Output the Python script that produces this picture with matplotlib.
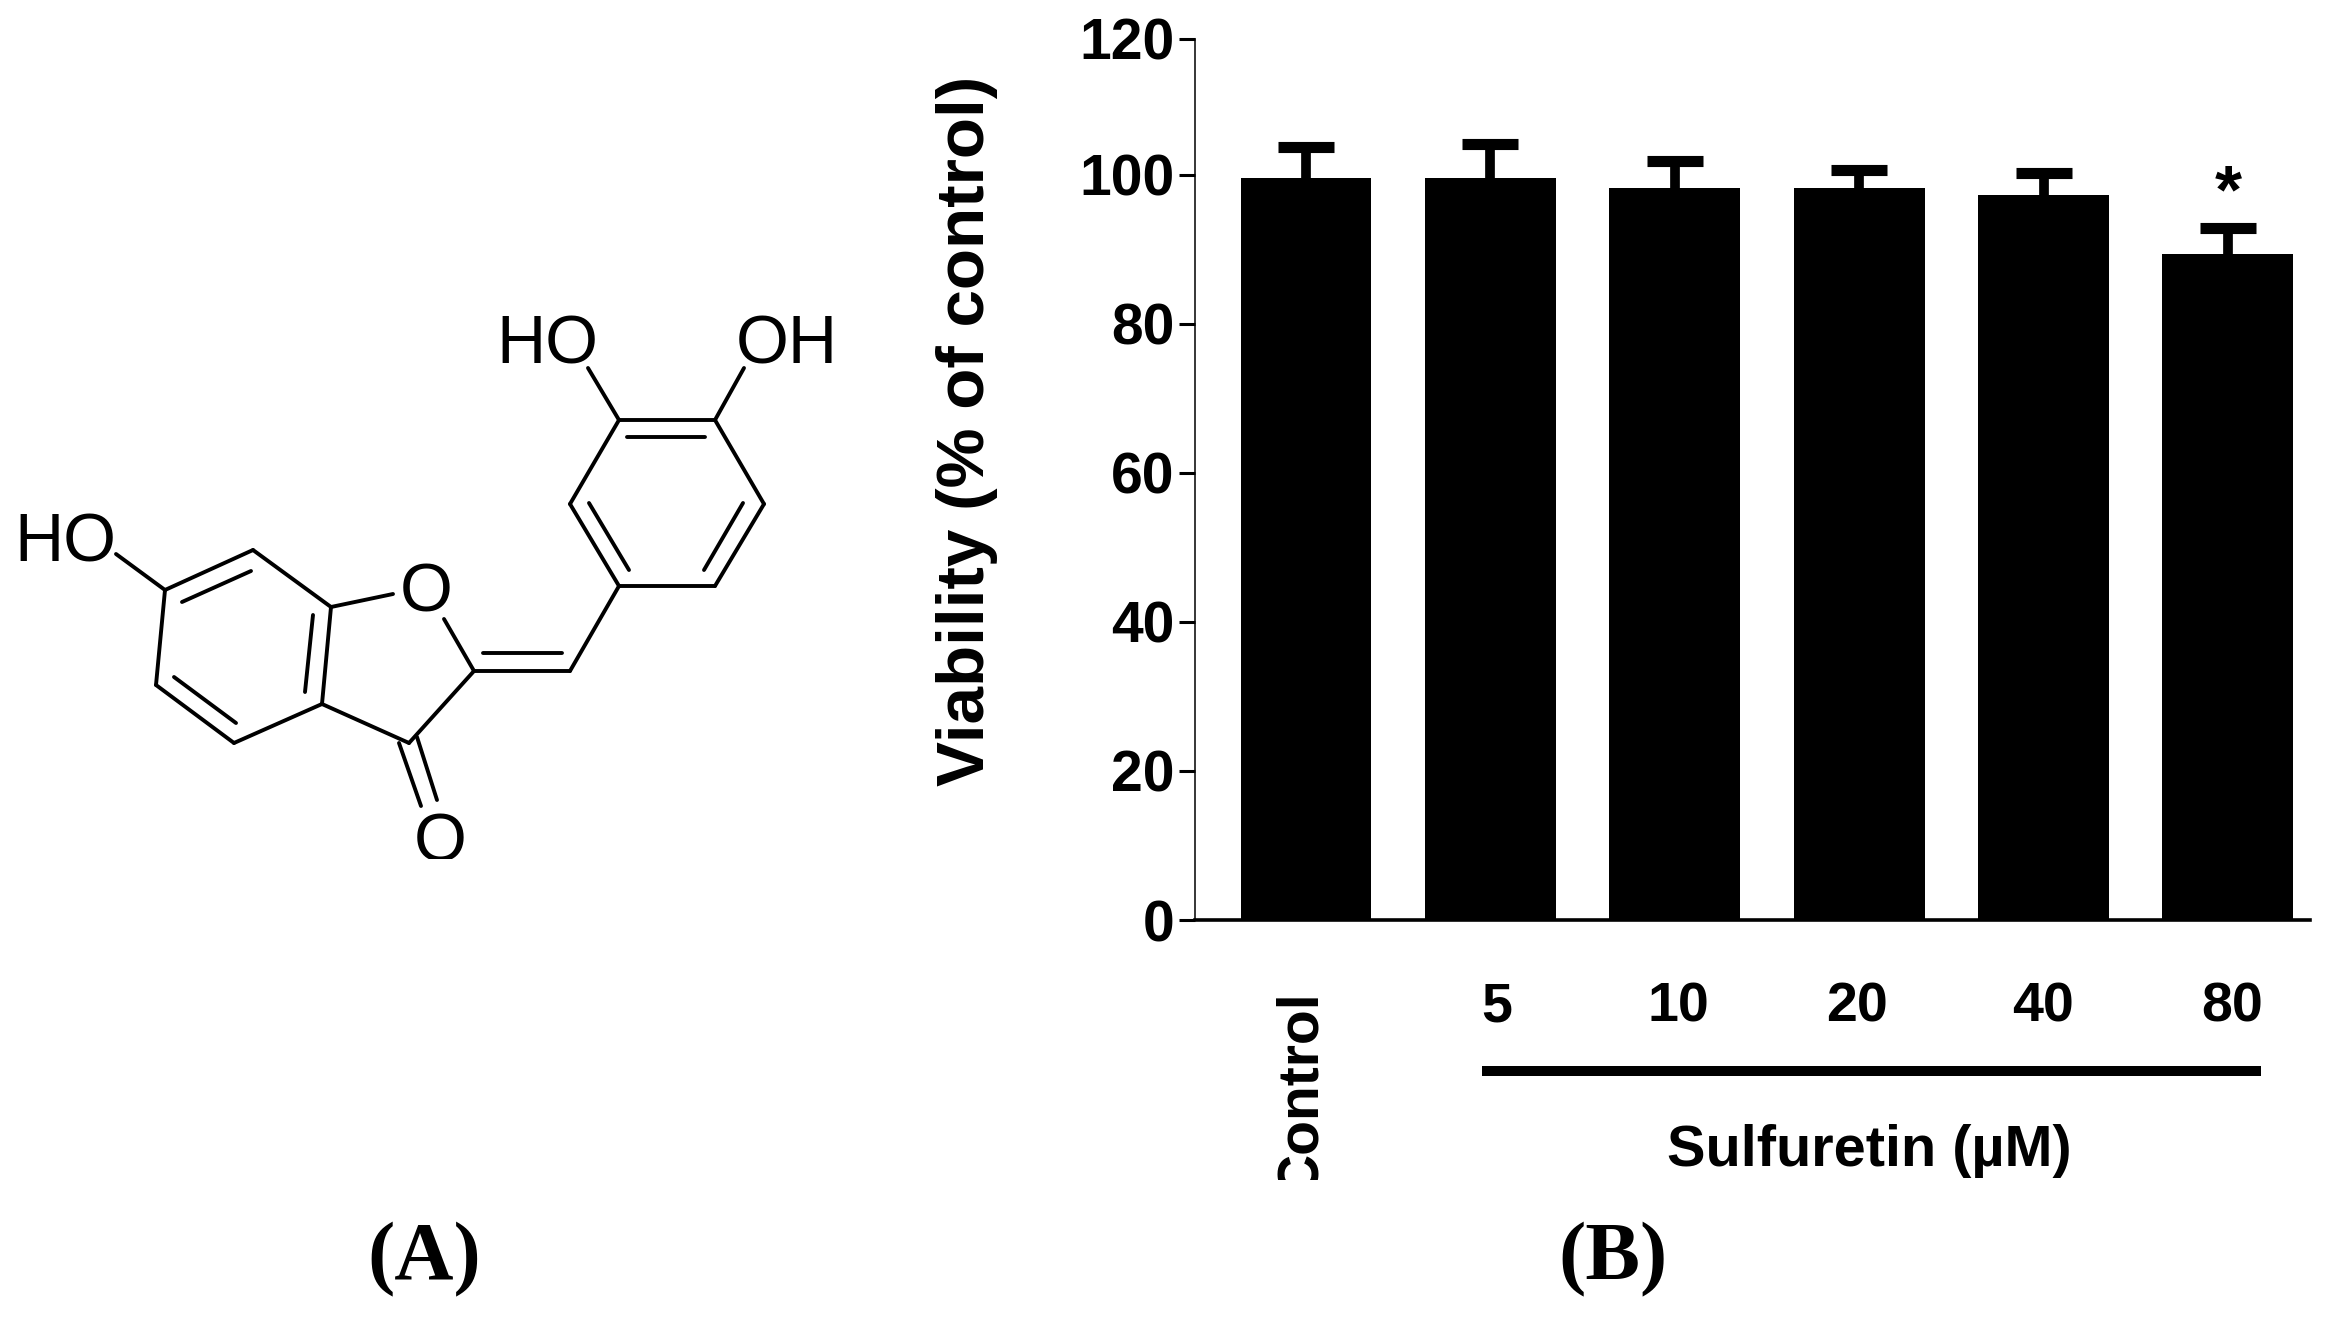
import matplotlib
matplotlib.use('Agg')
import matplotlib.pyplot as plt
from matplotlib.transforms import Bbox

plt.rcParams['font.family'] = ['Liberation Sans', 'DejaVu Sans']

## Bar chart data

groups = ['Control', '5', '10', '20', '40', '80']
viability = [99.6, 99.6, 98.3, 98.3, 97.3, 89.4]
errors = [4.1, 4.5, 3.6, 2.4, 3.0, 3.5]
star_group = 5

# the top tick sits a little low in the source picture, so 120 is drawn at 118.25
y_ticks = [0, 20, 40, 60, 80, 100, 118.25]
y_labels = ['0', '20', '40', '60', '80', '100', '120']

## Molecule (A) in image pixels

bonds = [
    ((165, 590), (253, 550)), ((253, 550), (331, 607)), ((331, 607), (322, 704)),
    ((322, 704), (234, 743)), ((234, 743), (156, 685)), ((156, 685), (165, 590)),
    ((182, 602), (251, 571)), ((313, 615), (305, 692)), ((236, 723), (174, 677)),
    ((165, 590), (116, 554)),
    ((331, 607), (393, 594)), ((444, 619), (474, 671)),
    ((474, 671), (409, 743)), ((322, 704), (409, 743)),
    ((474, 671), (570, 671)), ((483, 653), (562, 653)),
    ((570, 671), (619, 586)),
    ((619, 586), (570, 504)), ((570, 504), (619, 420)), ((619, 420), (715, 420)),
    ((715, 420), (764, 504)), ((764, 504), (715, 586)), ((715, 586), (619, 586)),
    ((589, 503), (629, 570)), ((627, 437), (705, 437)), ((743, 503), (704, 570)),
    ((619, 420), (588, 368)), ((715, 420), (744, 368)),
    ((399, 743), (421, 806)), ((417, 737), (437, 800)),
]
atoms = [
    ('HO', 65, 543), ('O', 426, 594), ('HO', 547, 345), ('OH', 787, 345),
]
carbonyl_o = ('O', 440, 843)

## Figure

fig = plt.figure(figsize=(23.33, 13.18), dpi=100)
W, H = 2333, 1318

left, right, top, bottom = 1195, 2310, 39, 920
ax = fig.add_axes([left / W, 1 - bottom / H, (right - left) / W, (bottom - top) / H])

x = list(range(len(groups)))
tops = [v + e for v, e in zip(viability, errors)]
ax.bar(x, viability, width=0.71, color='black')
ax.vlines(x, viability, tops, color='black', lw=7)
ax.plot(x, tops, linestyle='none', marker='_', color='black', ms=40, mew=8)
ax.text(star_group, 97.4, '*', ha='center', va='center', fontsize=50, fontweight='bold')

ax.set_xlim(-0.602, 5.445)
ax.set_ylim(0, 118.25)
ax.set_yticks(y_ticks)
ax.set_yticklabels(y_labels, fontsize=41, fontweight='bold')
ax.tick_params(axis='y', length=11.5, width=2.2, pad=3.5)
ax.set_xticks([])
for s in ['top', 'right']:
    ax.spines[s].set_visible(False)
ax.spines['left'].set_linewidth(1.1)
ax.spines['bottom'].set_linewidth(2.6)

## Everything else goes on an overlay in image pixels

ov = fig.add_axes([0, 0, 1, 1])
ov.set_xlim(0, W)
ov.set_ylim(H, 0)
ov.axis('off')

ov.text(967, 431, 'Viability (% of control)', rotation=90, ha='center', va='center',
        fontsize=48.5, fontweight='bold')

label_x = [1497, 1678, 1857, 2043, 2232]
for lab, lx in zip(groups[1:], label_x):
    ov.text(lx, 1007, lab, ha='center', va='center', fontsize=40, fontweight='bold')

# Control is cut off at the bottom in the picture
ctrl = ov.text(1301, 990, groups[0], rotation=90, ha='center', va='top',
               fontsize=41, fontweight='bold')
ctrl.set_clip_box(Bbox([[1200, H - 1180], [1400, H - 950]]))
ctrl.set_clip_on(True)

ov.plot([1482, 2261], [1071, 1071], color='black', lw=7.2, solid_capstyle='butt')
ov.text(1869, 1151, 'Sulfuretin (µM)', ha='center', va='center', fontsize=41.5, fontweight='bold')

ov.text(424, 1260, '(A)', ha='center', va='center', fontsize=59, fontweight='bold',
        family='Liberation Serif')
ov.text(1613, 1260, '(B)', ha='center', va='center', fontsize=59, fontweight='bold',
        family='Liberation Serif')

for p, q in bonds:
    ov.plot([p[0], q[0]], [p[1], q[1]], color='black', lw=2.8, solid_capstyle='round')
for name, ax_x, ax_y in atoms:
    ov.text(ax_x, ax_y, name, ha='center', va='center', fontsize=49)

o_text = ov.text(carbonyl_o[1], carbonyl_o[2], carbonyl_o[0], ha='center', va='center', fontsize=49)
o_text.set_clip_box(Bbox([[380, H - 859], [500, H - 780]]))
o_text.set_clip_on(True)

fig.savefig('out.png', dpi=100)
